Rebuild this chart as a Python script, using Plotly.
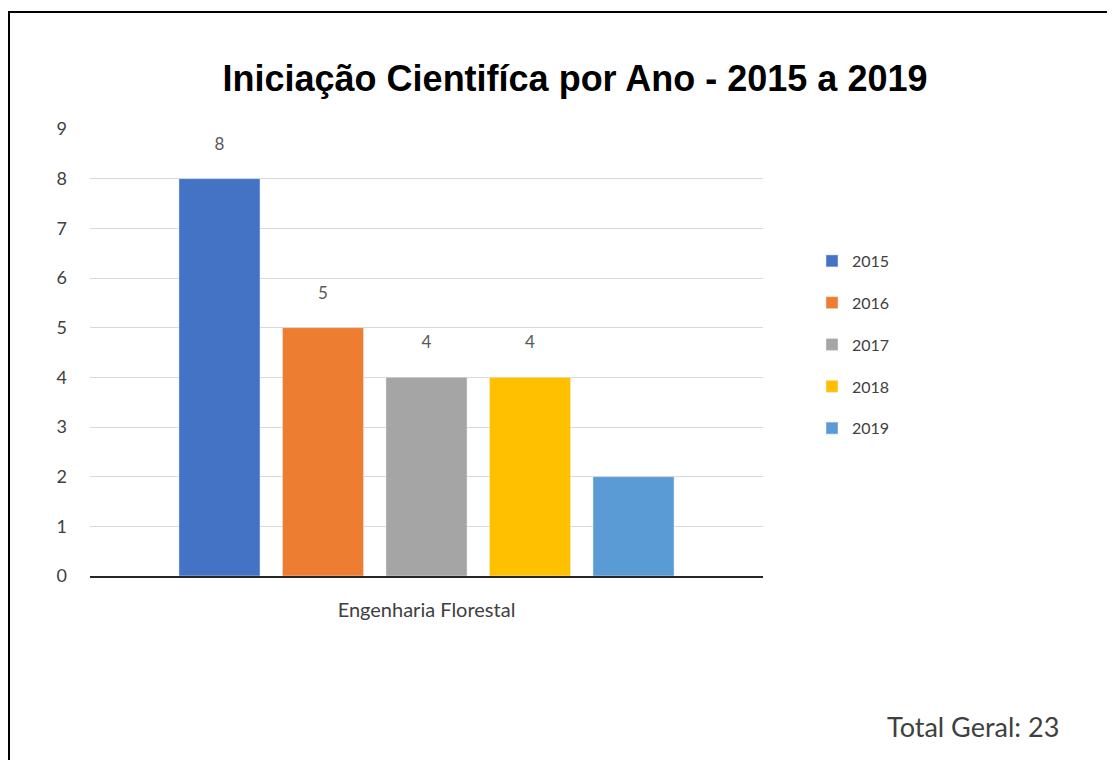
import plotly.graph_objects as go

categories = ["Engenharia Florestal"]
years = ["2015", "2016", "2017", "2018", "2019"]
values = [8, 5, 4, 4, 2]
labels = ["8", "5", "4", "4", ""]
colors = ["#4472C4", "#ED7D31", "#A5A5A5", "#FFC000", "#5B9BD5"]
total_label = "Total Geral: 23"
title_text = "Iniciação Cientifíca por Ano - 2015 a 2019"

OFF = 8  # page body margin
W, H = 1107, 752
L, R, T, B = 82, 352, 121, 184
pw, ph = W - L - R, H - T - B


def px_x(x):
    return (x - OFF - L) / pw


def px_y(y):
    return (H - B - (y - OFF)) / ph


FONT = "Lato, Open Sans, sans-serif"

fig = go.Figure()
for yr, v, lab, c in zip(years, values, labels, colors):
    fig.add_trace(go.Bar(
        x=categories, y=[v], name=yr, marker_color=c,
        text=[lab + "<br> " if lab else ""], textposition="outside", cliponaxis=False,
        textfont=dict(family=FONT, size=17, color="#595959"),
        legendgroup=yr,
    ))

fig.update_layout(
    width=W, height=H,
    margin=dict(l=L, r=R, t=T, b=B),
    paper_bgcolor="white", plot_bgcolor="white",
    barmode="group", bargap=0.231, bargroupgap=0.217,
    title=dict(text="<b>" + title_text + "</b>", x=px_x(575), xref="paper", xanchor="center",
               y=1 - (78 - OFF) / H, yanchor="middle",
               font=dict(family="Liberation Sans, Arial, sans-serif", size=36, color="#000000")),
    font=dict(family=FONT, color="#595959"),
    showlegend=True,
    legend=dict(x=px_x(812), xanchor="left", y=px_y(244), yanchor="top",
                font=dict(size=16, color="#404040"), tracegroupgap=18,
                bgcolor="rgba(0,0,0,0)"),
    xaxis=dict(showgrid=False, showline=True, linecolor="#262626", linewidth=2,
               tickfont=dict(size=20, color="#404040"), ticks="", ticklabelstandoff=15),
    yaxis=dict(range=[0, 9], dtick=1, showgrid=True, gridcolor="#D9D9D9", gridwidth=1,
               zeroline=False, showline=False, ticks="",
               tickfont=dict(size=18, color="#404040"), ticklabelstandoff=22),
    annotations=[dict(text=total_label, xref="paper", yref="paper",
                      x=px_x(973), y=px_y(726), xanchor="center", yanchor="middle",
                      showarrow=False, font=dict(size=27, color="#404040", family=FONT))],
    shapes=[dict(type="rect", xref="paper", yref="paper",
                 x0=px_x(9), x1=px_x(1140), y0=px_y(790), y1=px_y(12),
                 line=dict(color="black", width=2), fillcolor="rgba(0,0,0,0)", layer="below")],
)

fig.write_html("out.html")
